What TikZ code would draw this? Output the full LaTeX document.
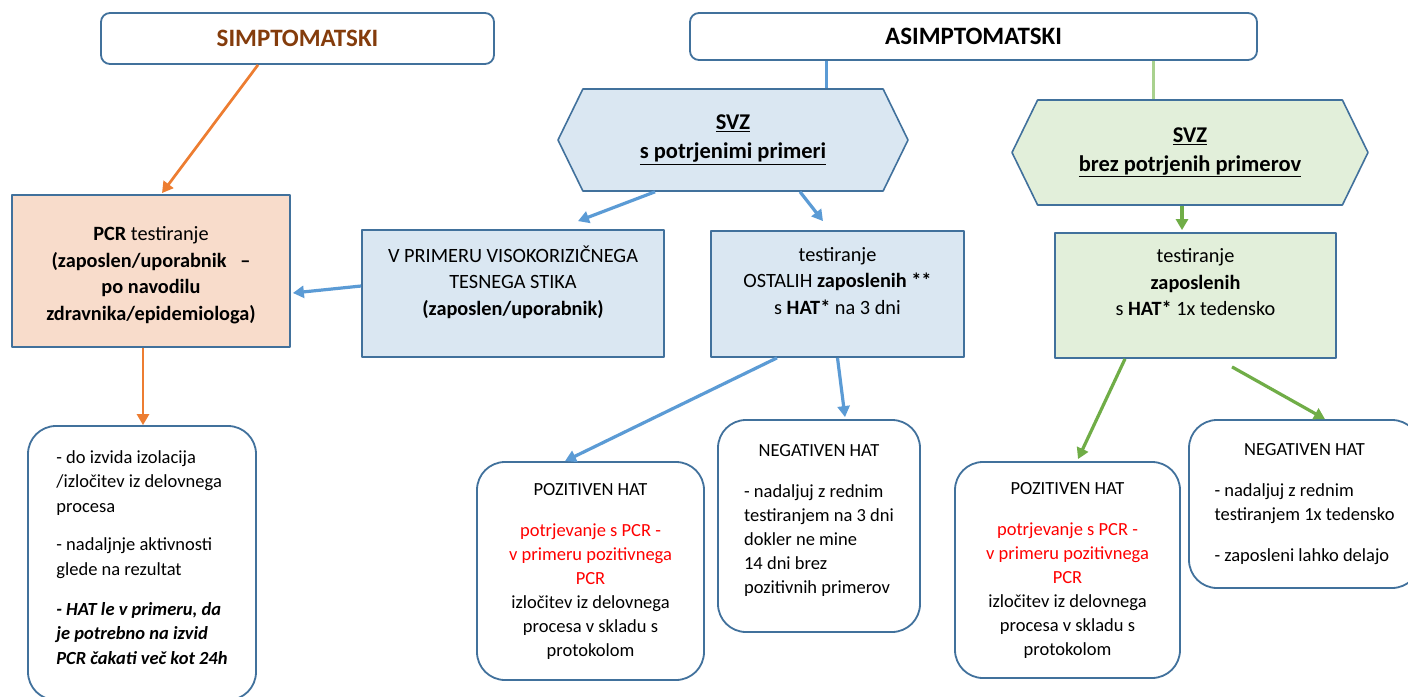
\documentclass[tikz,border=0pt]{standalone}
\usepackage{fontspec}
\setmainfont{Carlito}
\usetikzlibrary{arrows.meta,shapes.symbols}

\definecolor{boxline}{HTML}{41719C}
\definecolor{peach}{HTML}{F8DCCB}
\definecolor{paleblue}{HTML}{DAE7F2}
\definecolor{palegreen}{HTML}{E2EFDA}
\definecolor{simpbrown}{HTML}{843C0C}
\definecolor{arrorange}{HTML}{ED7D31}
\definecolor{arrblue}{HTML}{5B9BD5}
\definecolor{arrgreen}{HTML}{70AD47}
\definecolor{lightgreen}{HTML}{A9D18E}

\begin{document}
\begin{tikzpicture}[x=1pt,y=-1pt,line join=round,
    topbox/.style={draw=boxline,line width=1.8pt,rounded corners=9pt,fill=white,
      font=\fontsize{25}{30}\selectfont\bfseries},
    hexbox/.style={draw=boxline,line width=1.6pt,signal,signal to=west and east,
      signal pointer angle=128,inner sep=0pt,align=center,
      font=\fontsize{22.5}{29}\selectfont\bfseries},
    sqbox/.style={draw=boxline,line width=1.8pt,inner sep=0pt,align=center,
      font=\fontsize{20.3}{26.5}\selectfont},
    roundbox/.style={draw=boxline,line width=1.8pt,rounded corners=28pt,inner sep=0pt,
      fill=white,font=\fontsize{18.5}{24}\selectfont},
    oarrow/.style={draw=arrorange,line width=2.7pt,-{Triangle[length=11pt,width=12pt]}},
    barrow/.style={draw=arrblue,line width=3.2pt,-{Triangle[length=11pt,width=12pt]}},
    garrow/.style={draw=arrgreen,line width=3.2pt,-{Triangle[length=11pt,width=12pt]}}]
  \clip (0,0) rectangle (1408,696);
  \fill[white] (0,0) rectangle (1408,696);

  % Top headers
  \node[topbox,text=simpbrown,minimum width=393pt,minimum height=51pt] (simp) at (297.5,38.5) {SIMPTOMATSKI};
  \node[topbox,minimum width=567pt,minimum height=47pt] (asimp) at (973.5,36.5) {ASIMPTOMATSKI};

  % SVZ hexagons
  \node[hexbox,fill=paleblue,minimum width=350pt,minimum height=102pt] (svzb) at (733,140)
    {\underline{SVZ}\\\underline{s potrjenimi primeri}};
  \node[hexbox,fill=palegreen,minimum width=356pt,minimum height=105pt] (svzg) at (1190,152.5)
    {\underline{SVZ}\\\underline{brez potrjenih primerov}};

  % Middle row
  \node[sqbox,fill=peach,minimum width=278pt,minimum height=152pt] (pcr) at (151,271)
    {\raisebox{-4pt}[\height][\depth]{\begin{tabular}{@{}c@{}}\textbf{PCR} testiranje\\\textbf{(zaposlen/uporabnik~~~–}\\\textbf{po navodilu}\\\textbf{zdravnika/epidemiologa)}\end{tabular}}};
  \node[sqbox,fill=paleblue,minimum width=302pt,minimum height=127pt] (visok) at (513,293.5)
    {V PRIMERU VISOKORIZIČNEGA\\TESNEGA STIKA\\\textbf{(zaposlen/uporabnik)}\\~};
  \node[sqbox,fill=paleblue,minimum width=253pt,minimum height=126pt] (ostali) at (837.5,294)
    {testiranje\\OSTALIH \textbf{zaposlenih **}\\s \textbf{HAT*} na 3 dni\\~};
  \node[sqbox,fill=palegreen,minimum width=281pt,minimum height=125pt] (zapg) at (1195.5,295.5)
    {testiranje\\\textbf{zaposlenih}\\s \textbf{HAT*} 1x tedensko\\~};

  % Bottom row
  \node[roundbox,font=\fontsize{18.5}{24.8}\selectfont,minimum width=228pt,minimum height=274pt] (izol) at (142,563)
    {\raisebox{4pt}[\height][\depth]{\begin{tabular}{@{}l@{}}
      - do izvida izolacija\\/izločitev iz delovnega\\procesa\\[13pt]
      - nadaljnje aktivnosti\\glede na rezultat\\[15pt]
      \textbf{\textit{- HAT le v primeru, da}}\\\textbf{\textit{je potrebno na izvid}}\\
      \textbf{\textit{PCR čakati več kot 24h}}
    \end{tabular}}};
  \node[roundbox,minimum width=227pt,minimum height=218pt] (poz1) at (590.5,571)
    {\begin{tabular}{@{}c@{}}
      POZITIVEN HAT\\[17pt]
      \textcolor{red}{potrjevanje s PCR -}\\\textcolor{red}{v primeru pozitivnega}\\\textcolor{red}{PCR}\\
      izločitev iz delovnega\\procesa v skladu s\\protokolom
    \end{tabular}};
  \node[roundbox,minimum width=202pt,minimum height=212pt] (neg1) at (819,526)
    {\raisebox{6pt}[\height][\depth]{\begin{tabular}{@{}l@{}}
      \multicolumn{1}{@{}c@{}}{NEGATIVEN HAT}\\[17pt]
      - nadaljuj z rednim\\testiranjem na 3 dni\\dokler ne mine\\14 dni brez\\pozitivnih primerov
    \end{tabular}}};
  \node[roundbox,minimum width=225pt,minimum height=216pt] (poz2) at (1067.5,570)
    {\begin{tabular}{@{}c@{}}
      POZITIVEN HAT\\[17pt]
      \textcolor{red}{potrjevanje s PCR -}\\\textcolor{red}{v primeru pozitivnega}\\\textcolor{red}{PCR}\\
      izločitev iz delovnega\\procesa v skladu s\\protokolom
    \end{tabular}};
  \node[roundbox,minimum width=231pt,minimum height=168pt] (neg2) at (1304.5,504)
    {\begin{tabular}{@{}l@{}}
      \multicolumn{1}{@{}c@{}}{NEGATIVEN HAT}\\[17pt]
      - nadaljuj z rednim\\testiranjem 1x tedensko\\[17pt]
      - zaposleni lahko delajo
    \end{tabular}};

  % Connectors
  \draw[oarrow] ([xshift=-39.5pt]simp.south) -- ([xshift=11pt,yshift=1pt]pcr.north);
  \draw[oarrow] ([xshift=-8pt]pcr.south) -- ([xshift=1pt]izol.north);
  \draw[arrblue,line width=3pt] ([xshift=-147.5pt]asimp.south) -- ([xshift=93pt]svzb.north);
  \draw[lightgreen,line width=3pt] ([xshift=179.5pt]asimp.south) -- ([xshift=-37pt]svzg.north);
  \draw[barrow] ([xshift=-78pt]svzb.south) -- ([xshift=65pt,yshift=8pt]visok.north);
  \draw[barrow] ([xshift=67pt]svzb.south) -- ([xshift=-14.5pt,yshift=9pt]ostali.north);
  \draw[barrow] ([yshift=7.5pt]visok.west) -- ([xshift=2pt,yshift=-22pt]pcr.east);
  \draw[garrow] ([xshift=-8pt]svzg.south) -- ([xshift=-13.5pt,yshift=2pt]zapg.north);
  \draw[barrow] ([xshift=-60.5pt]ostali.south) -- ([xshift=-25.5pt]poz1.north);
  \draw[barrow] (ostali.south) -- ([xshift=26pt,yshift=2pt]neg1.north);
  \draw[garrow] ([xshift=-70.5pt]zapg.south) -- ([xshift=10.5pt,yshift=2pt]poz2.north);
  \draw[garrow] ([xshift=36.5pt,yshift=-8pt]zapg.south) -- ([xshift=20.5pt]neg2.north);
\end{tikzpicture}
\end{document}
